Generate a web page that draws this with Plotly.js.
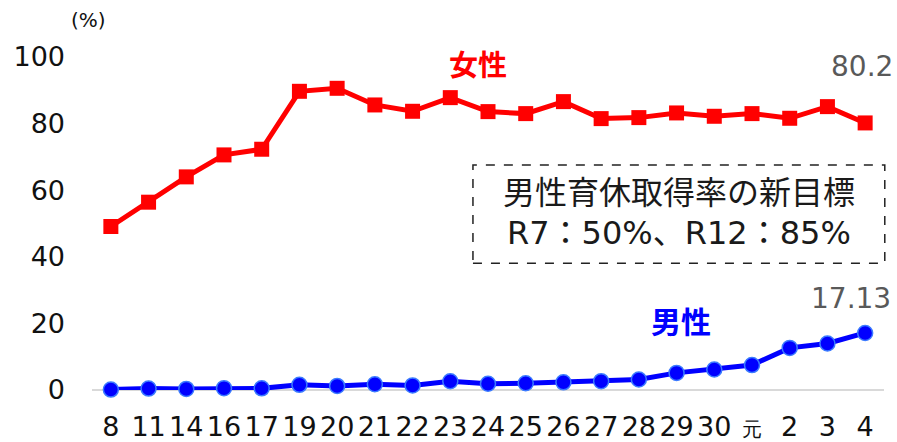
<!DOCTYPE html>
<html>
<head>
<meta charset="utf-8">
<script src="https://cdn.plot.ly/plotly-3.0.1.min.js"></script>
<style>html,body{margin:0;padding:0;background:#fff;}#chart{width:897px;height:442px;}</style>
</head>
<body>
<div id="chart"></div>
<script>
const categories = ["8","11","14","16","17","19","20","21","22","23","24","25","26","27","28","29","30","元","2","3","4"];
const femaleRate = [49.1,56.4,64.0,70.6,72.3,89.7,90.6,85.6,83.7,87.8,83.6,83.0,86.6,81.5,81.8,83.2,82.2,83.0,81.6,85.1,80.2];
const maleRate = [0.12,0.42,0.33,0.56,0.50,1.56,1.23,1.72,1.38,2.63,1.89,2.03,2.30,2.65,3.16,5.14,6.16,7.48,12.65,13.97,17.13];
const yTicks = [0,20,40,60,80,100];

const numFont = "DejaVu Sans, Verdana, sans-serif";
const jpFont = "Noto Sans CJK JP, sans-serif";
const mixFont = "DejaVu Sans, Noto Sans CJK JP, sans-serif";

const tickText = categories.map(c => c === "元" ? '<span style="font-size:20px">元</span>' : c);

const traces = [
  {
    x: categories, y: femaleRate, type: 'scatter', mode: 'lines+markers',
    line: {color: '#ff0000', width: 5},
    marker: {symbol: 'square', size: 15, color: '#ff0000'},
    cliponaxis: false, hoverinfo: 'skip'
  },
  {
    x: categories, y: maleRate, type: 'scatter', mode: 'lines+markers',
    line: {color: '#0000ff', width: 5},
    marker: {symbol: 'circle', size: 15, color: '#0000ff', line: {color: '#3b7bff', width: 1.5}},
    cliponaxis: false, hoverinfo: 'skip'
  }
];

const ann = (x, y, text, font) => ({xref: 'paper', yref: 'paper', x, y, text, showarrow: false,
  xanchor: 'center', yanchor: 'middle', font});

const layout = {
  width: 897, height: 442,
  margin: {l: 92, r: 13, t: 57, b: 52},
  paper_bgcolor: '#ffffff', plot_bgcolor: '#ffffff',
  showlegend: false,
  font: {family: numFont, color: '#111111'},
  xaxis: {
    type: 'category', range: [-0.5, 20.5],
    tickvals: categories, ticktext: tickText,
    showgrid: false, showline: false, zeroline: false, ticks: '',
    tickfont: {family: numFont, size: 27, color: '#111111'},
    ticklabelstandoff: 18, fixedrange: true
  },
  yaxis: {
    range: [0, 100], tickvals: yTicks,
    showgrid: false, showline: false, ticks: '',
    zeroline: true, zerolinecolor: '#d9d9d9', zerolinewidth: 2,
    tickfont: {family: numFont, size: 27, color: '#111111'},
    ticklabelstandoff: 26, fixedrange: true
  },
  shapes: [
    {type: 'rect', xref: 'paper', yref: 'paper', x0: 0.481, x1: 1.001, y0: 0.381, y1: 0.676,
     line: {color: '#222222', width: 1.5, dash: 'dash'}, fillcolor: 'rgba(0,0,0,0)'}
  ],
  annotations: [
    ann(0.741, 0.601, '男性育休取得率の新目標', {family: jpFont, size: 32, color: '#1a1a1a'}),
    ann(0.741, 0.472, 'R7：50%、R12：85%', {family: mixFont, size: 32, color: '#1a1a1a'}),
    ann(0.487, 0.982, '<b>女性</b>', {family: jpFont, size: 29, color: '#ff0000'}),
    ann(0.744, 0.211, '<b>男性</b>', {family: jpFont, size: 30, color: '#0000ff'}),
    ann(0.972, 0.970, String(femaleRate[femaleRate.length-1]), {family: numFont, size: 28, color: '#595959'}),
    ann(0.958, 0.276, String(maleRate[maleRate.length-1]), {family: numFont, size: 28, color: '#595959'}),
    ann(-0.005, 1.111, '(%)', {family: numFont, size: 20, color: '#111111'})
  ]
};

Plotly.newPlot('chart', traces, layout, {staticPlot: true, displayModeBar: false});
</script>
</body>
</html>
